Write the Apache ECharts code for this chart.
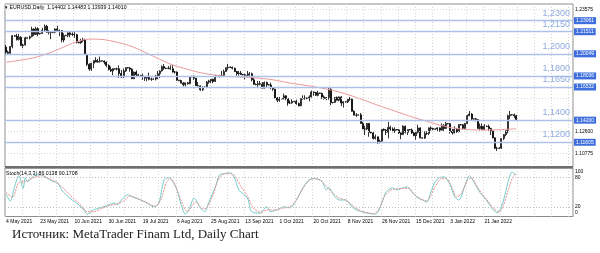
<!DOCTYPE html>
<html><head><meta charset="utf-8">
<script src="https://cdn.jsdelivr.net/npm/echarts@6/dist/echarts.min.js"></script>
<style>html,body{margin:0;padding:0;background:#fff}#c{width:600px;height:253px}</style>
</head><body><div id="c"></div>
<script>
// ---- categories: daily bars (MetaTrader shows Sunday bars), from 4 May 2021 ----
const startDate = [2021, 4, 4];
const skippedDates = ['20 Jun 2021'];
const totalSlots = 266;
const MONTHS = ['Jan','Feb','Mar','Apr','May','Jun','Jul','Aug','Sep','Oct','Nov','Dec'];
const dates = [];
(function(){ const d = new Date(Date.UTC(startDate[0], startDate[1], startDate[2]));
  while (dates.length < totalSlots) { const s = d.getUTCDate()+' '+MONTHS[d.getUTCMonth()]+' '+d.getUTCFullYear();
    if (d.getUTCDay() !== 6 && skippedDates.indexOf(s) < 0) dates.push(s); d.setUTCDate(d.getUTCDate()+1); } })();

const tickLabels = ['4 May 2021','23 May 2021','10 Jun 2021','30 Jun 2021','19 Jul 2021','6 Aug 2021','25 Aug 2021','13 Sep 2021','1 Oct 2021','20 Oct 2021','8 Nov 2021','26 Nov 2021','15 Dec 2021','3 Jan 2022','21 Jan 2022'];

// ---- EURUSD daily OHLC (one line per week) ----
const opens = [
1.2061,1.2015,1.2004,1.2066,
1.2164,1.2160,1.2130,1.2150,1.2075,1.2080,
1.2145,1.2142,1.2155,1.2225,1.2175,1.2228,
1.2180,1.2185,1.2215,1.2250,1.2195,1.2195,
1.2192,1.2195,1.2225,1.2212,1.2210,1.2125,
1.2165,1.2168,1.2190,1.2175,1.2178,1.2173,
1.2105,1.2100,1.2120,1.2125,1.1995,1.1905,
1.1862,1.1915,1.1940,1.1925,1.1932,
1.1937,1.1935,1.1925,1.1895,1.1858,1.1845,
1.1865,1.1862,1.1865,1.1823,1.1790,1.1845,
1.1875,1.1872,1.1860,1.1775,1.1835,1.1810,
1.1805,1.1800,1.1795,1.1780,1.1795,1.1770,
1.1770,1.1772,1.1800,1.1820,1.1845,1.1885,
1.1870,1.1868,1.1870,1.1865,1.1835,1.1835,
1.1762,1.1758,1.1735,1.1720,1.1738,1.1730,
1.1795,1.1792,1.1780,1.1712,1.1710,1.1675,
1.1698,1.1700,1.1745,1.1755,1.1770,1.1750,
1.1795,1.1797,1.1800,1.1805,1.1840,1.1875,
1.1880,1.1878,1.1870,1.1840,1.1820,1.1825,
1.1812,1.1810,1.1805,1.1805,1.1820,1.1765,
1.1725,1.1722,1.1730,1.1725,1.1690,1.1740,
1.1720,1.1718,1.1695,1.1680,1.1600,1.1580,
1.1595,1.1592,1.1620,1.1597,1.1555,1.1555,
1.1570,1.1568,1.1550,1.1530,1.1595,1.1595,
1.1600,1.1598,1.1610,1.1655,1.1650,1.1625,
1.1645,1.1642,1.1610,1.1595,1.1605,1.1680,
1.1558,1.1560,1.1605,1.1580,1.1610,1.1555,
1.1567,1.1565,1.1590,1.1590,1.1480,1.1445,
1.1445,1.1448,1.1370,1.1320,1.1320,1.1370,
1.1290,1.1285,1.1235,1.1250,1.1200,1.1210,
1.1317,1.1310,1.1290,1.1335,1.1320,1.1305,
1.1315,1.1312,1.1285,1.1270,1.1345,1.1290,
1.1315,1.1312,1.1285,1.1260,1.1290,1.1330,
1.1240,1.1238,1.1280,1.1280,1.1330,1.1325,
1.1318,1.1320,1.1330,1.1310,1.1350,1.1325,
1.1370,1.1368,1.1300,1.1285,1.1315,1.1295,
1.1360,1.1358,1.1325,1.1370,1.1440,1.1455,
1.1410,1.1412,1.1405,1.1325,1.1345,1.1315,
1.1345,1.1342,1.1325,1.1300,1.1240,1.1145,
1.1145,1.1148,1.1235,1.1270,1.1305,1.1440,
1.1450,1.1448,1.14402];
const highs = [
1.2080,1.2030,1.2071,1.2171,
1.2170,1.2181,1.2181,1.2160,1.2090,1.2155,
1.2150,1.2165,1.2245,1.2230,1.2245,1.2240,
1.2190,1.2235,1.2266,1.2262,1.2215,1.2200,
1.2200,1.2230,1.2254,1.2220,1.2215,1.2185,
1.2172,1.2195,1.2195,1.2195,1.2200,1.2180,
1.2110,1.2135,1.2145,1.2138,1.2000,1.1915,
1.1920,1.1940,1.1970,1.1955,1.1975,
1.1942,1.1940,1.1930,1.1905,1.1885,1.1870,
1.1870,1.1875,1.1895,1.1855,1.1868,1.1880,
1.1880,1.1880,1.1870,1.1840,1.1850,1.1820,
1.1810,1.1820,1.1800,1.1800,1.1830,1.1785,
1.1778,1.1810,1.1845,1.1850,1.1895,1.1908,
1.1875,1.1890,1.1895,1.1900,1.1845,1.1840,
1.1765,1.1765,1.1745,1.1740,1.1745,1.1800,
1.1800,1.1805,1.1780,1.1745,1.1715,1.1705,
1.1705,1.1755,1.1765,1.1770,1.1775,1.1810,
1.1802,1.1810,1.1845,1.1857,1.1875,1.1909,
1.1885,1.1885,1.1875,1.1845,1.1845,1.1845,
1.1818,1.1820,1.1845,1.1835,1.1830,1.1785,
1.1732,1.1755,1.1755,1.1745,1.1750,1.1750,
1.1725,1.1740,1.1700,1.1685,1.1610,1.1610,
1.1600,1.1640,1.1625,1.1600,1.1580,1.1590,
1.1575,1.1585,1.1560,1.1595,1.1625,1.1625,
1.1605,1.1625,1.1668,1.1660,1.1655,1.1665,
1.1650,1.1650,1.1625,1.1610,1.1692,1.1690,
1.1565,1.1610,1.1615,1.1615,1.1617,1.1570,
1.1572,1.1600,1.1610,1.1595,1.1490,1.1465,
1.1450,1.1465,1.1385,1.1350,1.1375,1.1375,
1.1295,1.1295,1.1270,1.1250,1.1225,1.1320,
1.1325,1.1320,1.1385,1.1350,1.1335,1.1335,
1.1320,1.1320,1.1290,1.1355,1.1350,1.1315,
1.1320,1.1325,1.1300,1.1295,1.1360,1.1335,
1.1245,1.1300,1.1300,1.1335,1.1345,1.1330,
1.1325,1.1335,1.1335,1.1370,1.1365,1.1385,
1.1375,1.1375,1.1320,1.1345,1.1330,1.1365,
1.1365,1.1365,1.1375,1.1450,1.1482,1.1465,
1.1415,1.1420,1.1410,1.1370,1.1370,1.1365,
1.1350,1.1360,1.1330,1.1305,1.1245,1.1160,
1.1155,1.1235,1.1275,1.1307,1.1450,1.1483,
1.1455,1.1460,1.14483];
const lows = [
1.1986,1.1998,1.1999,1.2050,
1.2155,1.2120,1.2120,1.2072,1.2051,1.2075,
1.2138,1.2130,1.2150,1.2162,1.2170,1.2160,
1.2175,1.2180,1.2205,1.2190,1.2175,1.2133,
1.2188,1.2185,1.2205,1.2160,1.2105,1.2104,
1.2160,1.2150,1.2150,1.2160,1.2145,1.2094,
1.2095,1.2090,1.2105,1.1990,1.1890,1.1847,
1.1847,1.1870,1.1925,1.1920,1.1920,
1.1930,1.1905,1.1880,1.1850,1.1835,1.1807,
1.1858,1.1850,1.1782,1.1781,1.1780,1.1837,
1.1868,1.1838,1.1772,1.1772,1.1795,1.1795,
1.1798,1.1765,1.1755,1.1752,1.1760,1.1755,
1.1765,1.1760,1.1770,1.1780,1.1840,1.1855,
1.1862,1.1860,1.1855,1.1830,1.1820,1.1755,
1.1752,1.1735,1.1705,1.1705,1.1720,1.1725,
1.1788,1.1765,1.1710,1.1705,1.1665,1.1664,
1.1692,1.1690,1.1730,1.1735,1.1735,1.1745,
1.1790,1.1785,1.1790,1.1800,1.1835,1.1855,
1.1872,1.1860,1.1836,1.1803,1.1802,1.1810,
1.1805,1.1770,1.1790,1.1800,1.1750,1.1720,
1.1715,1.1700,1.1715,1.1685,1.1685,1.1700,
1.1712,1.1680,1.1665,1.1600,1.1563,1.1565,
1.1588,1.1590,1.1580,1.1530,1.1545,1.1550,
1.1562,1.1540,1.1525,1.1525,1.1585,1.1585,
1.1590,1.1570,1.1605,1.1620,1.1620,1.1615,
1.1638,1.1590,1.1585,1.1580,1.1585,1.1535,
1.1552,1.1555,1.1580,1.1570,1.1528,1.1513,
1.1560,1.1555,1.1575,1.1480,1.1445,1.1430,
1.1440,1.1370,1.1320,1.1265,1.1310,1.1250,
1.1280,1.1225,1.1225,1.1186,1.1190,1.1205,
1.1300,1.1265,1.1235,1.1305,1.1290,1.1285,
1.1308,1.1275,1.1227,1.1265,1.1280,1.1265,
1.1308,1.1275,1.1255,1.1222,1.1280,1.1235,
1.1232,1.1230,1.1265,1.1265,1.1305,1.1310,
1.1312,1.1300,1.1295,1.1305,1.1300,1.1320,
1.1362,1.1280,1.1270,1.1280,1.1285,1.1290,
1.1352,1.1315,1.1315,1.1365,1.1435,1.1395,
1.1402,1.1390,1.1325,1.1310,1.1315,1.1310,
1.1338,1.1305,1.1265,1.1235,1.1140,1.1121,
1.1140,1.1140,1.1220,1.1255,1.1280,1.1410,
1.1442,1.1420,1.13939];
const closes = [
1.2015,1.2004,1.2066,1.2164,
1.2160,1.2130,1.2150,1.2075,1.2080,1.2145,
1.2142,1.2155,1.2225,1.2175,1.2228,1.2180,
1.2185,1.2215,1.2250,1.2195,1.2195,1.2192,
1.2195,1.2225,1.2212,1.2210,1.2125,1.2165,
1.2168,1.2190,1.2175,1.2178,1.2173,1.2105,
1.2100,1.2120,1.2125,1.1995,1.1905,1.1862,
1.1915,1.1940,1.1925,1.1932,1.1937,
1.1935,1.1925,1.1895,1.1858,1.1845,1.1865,
1.1862,1.1865,1.1823,1.1790,1.1845,1.1875,
1.1872,1.1860,1.1775,1.1835,1.1810,1.1805,
1.1800,1.1795,1.1780,1.1795,1.1770,1.1770,
1.1772,1.1800,1.1820,1.1845,1.1885,1.1870,
1.1868,1.1870,1.1865,1.1835,1.1835,1.1762,
1.1758,1.1735,1.1720,1.1738,1.1730,1.1795,
1.1792,1.1780,1.1712,1.1710,1.1675,1.1698,
1.1700,1.1745,1.1755,1.1770,1.1750,1.1795,
1.1797,1.1800,1.1805,1.1840,1.1875,1.1880,
1.1878,1.1870,1.1840,1.1820,1.1825,1.1812,
1.1810,1.1805,1.1805,1.1820,1.1765,1.1725,
1.1722,1.1730,1.1725,1.1690,1.1740,1.1720,
1.1718,1.1695,1.1680,1.1600,1.1580,1.1595,
1.1592,1.1620,1.1597,1.1555,1.1555,1.1570,
1.1568,1.1550,1.1530,1.1595,1.1595,1.1600,
1.1598,1.1610,1.1655,1.1650,1.1625,1.1645,
1.1642,1.1610,1.1595,1.1605,1.1680,1.1558,
1.1560,1.1605,1.1580,1.1610,1.1555,1.1567,
1.1565,1.1590,1.1590,1.1480,1.1445,1.1445,
1.1448,1.1370,1.1320,1.1320,1.1370,1.1290,
1.1285,1.1235,1.1250,1.1200,1.1210,1.1317,
1.1310,1.1290,1.1335,1.1320,1.1305,1.1315,
1.1312,1.1285,1.1270,1.1345,1.1290,1.1315,
1.1312,1.1285,1.1260,1.1290,1.1330,1.1240,
1.1238,1.1280,1.1280,1.1330,1.1325,1.1318,
1.1320,1.1330,1.1310,1.1350,1.1325,1.1370,
1.1368,1.1300,1.1285,1.1315,1.1295,1.1360,
1.1358,1.1325,1.1370,1.1440,1.1455,1.1410,
1.1412,1.1405,1.1325,1.1345,1.1315,1.1345,
1.1342,1.1325,1.1300,1.1240,1.1145,1.1145,
1.1148,1.1235,1.1270,1.1305,1.1440,1.1450,
1.1448,1.1440,1.14010];

// ---- moving average, [bar index, price] ----
const maPoints = [[0,1.1925],[6,1.1940],[13,1.1965],[19,1.2000],[25,1.2045],[31,1.2095],[36,1.2125],[41,1.2133],[47,1.2125],[53,1.2100],[59,1.2065],[66,1.2005],[72,1.1950],[78,1.1900],[85,1.1860],[91,1.1830],[101,1.1800],[110,1.1790],[117,1.1782],[125,1.1765],[133,1.1736],[145,1.1700],[156,1.1655],[167,1.1585],[176,1.1522],[184,1.1470],[190,1.1430],[197,1.1390],[203,1.1356],[209,1.1330],[216,1.1316],[222,1.1311],[229,1.1312],[235,1.1318],[239,1.1322]];

// ---- Stochastic (14,3,3): main %K and signal %D, [bar index, value] ----
const stochK = [[0,46],[2,32],[4,62],[6,84],[8,58],[9,80],[10,72],[13,84],[16,86],[19,80],[22,72],[24,70],[26,55],[28,45],[31,34],[33,28],[36,16],[38,5],[41,14],[44,18],[47,22],[51,28],[52,24],[54,34],[57,45],[59,41],[63,34],[66,28],[69,20],[71,24],[72,34],[74,76],[76,80],[78,72],[80,55],[82,24],[84,5],[86,18],[88,38],[91,18],[93,10],[95,30],[98,61],[100,86],[102,88],[105,90],[107,80],[109,55],[113,38],[115,10],[119,7],[122,20],[124,10],[127,14],[130,20],[133,18],[136,34],[139,59],[142,76],[145,78],[148,72],[150,55],[151,59],[154,41],[156,34],[159,34],[162,20],[164,14],[169,7],[173,5],[176,28],[178,51],[181,59],[183,55],[186,59],[188,61],[190,51],[192,41],[195,34],[197,30],[199,51],[201,72],[203,80],[205,82],[208,65],[210,41],[212,34],[215,65],[217,84],[219,72],[222,49],[225,34],[227,20],[230,8],[231,10],[233,34],[235,70],[237,92],[238,88],[239,86.0138]];
const stochD = [[0,50],[3,40],[6,70],[9,72],[11,76],[14,82],[17,84],[20,78],[23,72],[26,62],[29,48],[32,36],[35,24],[38,10],[41,10],[45,17],[48,22],[52,26],[55,32],[58,42],[61,38],[64,32],[67,26],[70,21],[73,40],[75,70],[77,78],[79,66],[81,44],[83,22],[85,10],[87,22],[89,30],[92,16],[94,18],[97,45],[99,72],[101,86],[104,89],[107,84],[110,62],[113,42],[116,16],[119,9],[123,14],[126,13],[129,17],[132,19],[135,28],[138,50],[141,70],[144,78],[147,75],[150,62],[153,48],[156,38],[159,34],[162,24],[165,14],[168,9],[172,6],[175,18],[177,40],[180,54],[183,57],[186,58],[189,57],[191,47],[194,37],[197,32],[199,44],[201,62],[204,78],[206,78],[209,58],[211,40],[213,46],[216,74],[218,80],[220,66],[223,46],[226,30],[228,18],[231,10],[233,24],[235,52],[237,78],[239,90.1708]];
const stochLevels = [80, 20];
const stochTicks = [100, 80, 20, 0];

// ---- horizontal levels and price scale ----
const levelValues = [1.2306, 1.2151, 1.2005, 1.1804, 1.1653, 1.1420, 1.1160];
const levelBoxText = ['1.23061','1.21511','1.20049','1.18036','1.16532','1.14200','1.11605'];
const levelNames = ['1,2300','1,2150','1,2000','1,1800','1,1650','1,1400','1,1200'];
const priceGrid = [1.23575, 1.21755, 1.19875, 1.18075, 1.16235, 1.14415, 1.12600, 1.10775];
const priceTickLabels = ['1.23575','1.21755','','1.18075','','1.14415','1.12600','1.10775'];
const bidPrice = 1.1401;
const priceMin = 1.09764, priceMax = 1.24507;

const last = closes.length - 1;
const header = '\u25BE EURUSD,Daily  ' + opens[last].toFixed(5) + ' ' + highs[last].toFixed(5) + ' ' + lows[last].toFixed(5) + ' ' + closes[last].toFixed(5);
const stochHeader = 'Stoch(14,3,3) ' + stochK[stochK.length-1][1].toFixed(4) + ' ' + stochD[stochD.length-1][1].toFixed(4);
const caption = 'Источник: MetaTrader Finam Ltd, Daily Chart';

const candleData = opens.map((o, i) => [o, closes[i], lows[i], highs[i]]);

const FONT = 'Liberation Sans, Arial, sans-serif';
const markData = [];
priceGrid.forEach((v, i) => markData.push({ yAxis: v,
  lineStyle: { color: '#d6d6d6', type: [1, 2], width: 1 },
  label: { show: !!priceTickLabels[i], position: 'end', distance: 2, formatter: priceTickLabels[i] || ' ', color: '#000', fontSize: 5, fontFamily: FONT } }));
markData.push({ yAxis: bidPrice, lineStyle: { color: '#c3d0ec', width: 1, type: 'solid' }, label: { show: false } });
levelValues.forEach((v, i) => markData.push({ yAxis: v,
  lineStyle: { color: 'rgba(0,0,0,0)', width: 1, type: 'solid' },
  label: { show: true, position: 'insideEndTop', distance: 3, formatter: levelNames[i], color: '#8eaadf', fontSize: 9, fontFamily: FONT } }));
levelValues.forEach((v, i) => markData.push({ yAxis: v,
  lineStyle: { color: '#aec1e8', width: 1.3, type: 'solid' },
  label: { show: true, position: 'end', distance: 1, formatter: levelBoxText[i], color: '#fff', fontSize: 5, fontFamily: FONT,
           backgroundColor: '#3f6fde', padding: [1, 2, 1, 2] } }));

const splitLineStyle = { show: true, interval: 7, lineStyle: { color: '#d4d4d4', type: [1, 2], width: 1 } };

const chart = echarts.init(document.getElementById('c'), null, { renderer: 'canvas' });
chart.setOption({
  animation: false,
  backgroundColor: '#fff',
  textStyle: { fontFamily: FONT },
  title: [
    { text: header, left: 5, top: 5, padding: 0, textStyle: { fontSize: 5.2, fontWeight: 'normal', color: '#000', fontFamily: FONT } },
    { text: stochHeader, left: 6, top: 171, padding: 0, textStyle: { fontSize: 5.2, fontWeight: 'normal', color: '#000', fontFamily: FONT } },
    { text: caption, left: 12, top: 228, padding: 0, textStyle: { fontSize: 13, fontWeight: 'normal', color: '#222', fontFamily: 'Liberation Serif, Times New Roman, serif' } }
  ],
  grid: [
    { left: 5, top: 4, width: 568, height: 163, show: true, borderColor: '#8c8c8c', borderWidth: 1 },
    { left: 5, top: 168, width: 568, height: 48.5, show: true, borderColor: '#8c8c8c', borderWidth: 1 }
  ],
  xAxis: [
    { type: 'category', gridIndex: 0, data: dates, boundaryGap: true,
      axisLine: { show: false }, axisTick: { show: false }, axisLabel: { show: false }, splitLine: splitLineStyle },
    { type: 'category', gridIndex: 1, data: dates, boundaryGap: true,
      axisLine: { show: false }, axisTick: { show: false }, splitLine: splitLineStyle,
      axisLabel: { show: true, interval: (i, name) => tickLabels.indexOf(name) >= 0, align: 'left', margin: 3,
                   fontSize: 5, color: '#000', fontFamily: FONT, hideOverlap: false } }
  ],
  yAxis: [
    { type: 'value', gridIndex: 0, position: 'right', min: priceMin, max: priceMax, scale: true,
      axisLine: { show: false }, axisTick: { show: false }, axisLabel: { show: false }, splitLine: { show: false } },
    { type: 'value', gridIndex: 1, position: 'right', min: 0, max: 100, interval: 20,
      axisLine: { show: false }, axisTick: { show: false }, splitLine: { show: false },
      axisLabel: { show: true, margin: 2, fontSize: 5, color: '#000', fontFamily: FONT,
        formatter: v => stochTicks.indexOf(v) < 0 ? '' : (v === 100 ? '{t|100}' : (v === 0 ? '{b|0}' : String(v))),
        rich: { t: { fontSize: 5, padding: [8, 0, 0, 0] }, b: { fontSize: 5, padding: [0, 0, 8, 0] } } } }
  ],
  series: [
    { type: 'candlestick', xAxisIndex: 0, yAxisIndex: 0, data: candleData, barWidth: 1.5,
      itemStyle: { color: '#ffffff', color0: '#000000', borderColor: '#000000', borderColor0: '#000000', borderWidth: 0.8 },
      markLine: { silent: true, symbol: ['none', 'none'], animation: false, data: markData }, z: 2 },
    { type: 'line', xAxisIndex: 0, yAxisIndex: 0, data: maPoints, symbol: 'none', smooth: 0.4,
      lineStyle: { color: '#ea9a9a', width: 1 }, z: 3 },
    { type: 'line', xAxisIndex: 1, yAxisIndex: 1, data: stochK, symbol: 'none', smooth: 0.3,
      lineStyle: { color: '#74cccc', width: 1 }, z: 3,
      markLine: { silent: true, symbol: ['none', 'none'], label: { show: false },
        lineStyle: { color: '#bdbdbd', type: [1, 2], width: 1 }, data: stochLevels.map(v => ({ yAxis: v })) } },
    { type: 'line', xAxisIndex: 1, yAxisIndex: 1, data: stochD, symbol: 'none', smooth: 0.3,
      lineStyle: { color: '#e79191', width: 1, type: [2, 1] }, z: 3 }
  ],
  graphic: [
    { type: 'rect', shape: { x: 5, y: 166, width: 568, height: 2.5 }, style: { fill: '#6e6e6e' }, z: 100, silent: true }
  ]
});
</script>
</body></html>
